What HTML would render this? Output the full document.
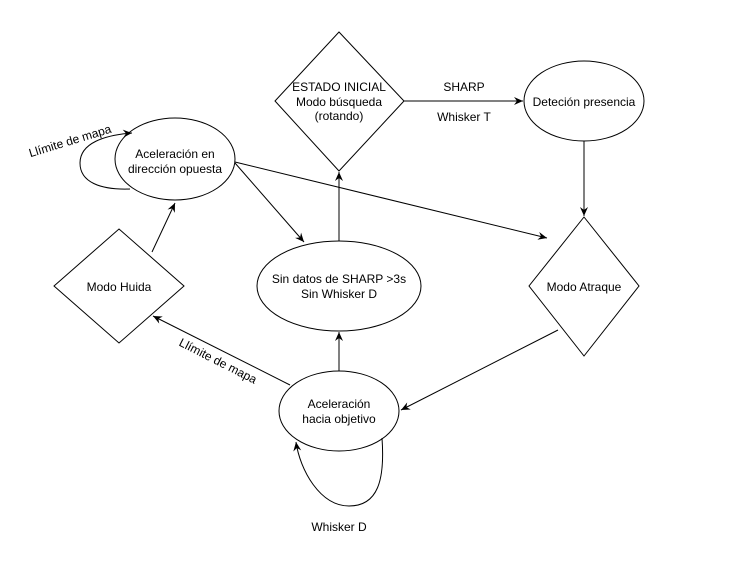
<!DOCTYPE html>
<html><head><meta charset="utf-8"><style>html,body{margin:0;padding:0;background:#fff}</style></head>
<body>
<svg width="736" height="572" xmlns="http://www.w3.org/2000/svg" font-family="Liberation Sans, sans-serif" font-size="12" fill="none" stroke="#000">
<defs><marker id="a" markerWidth="10" markerHeight="10" refX="9" refY="5" orient="auto" markerUnits="userSpaceOnUse"><path d="M0,1 L9,5 L0,9 L3,5 Z" fill="#000" stroke="none"/></marker></defs>
<polygon points="339,32 404,101 339,171 275,101" fill="#fff"/>
<ellipse cx="584" cy="101" rx="60" ry="40" fill="#fff"/>
<polygon points="584,217 639,286 584,356 529,286" fill="#fff"/>
<ellipse cx="339" cy="286" rx="82" ry="45" fill="#fff"/>
<ellipse cx="175" cy="159" rx="60" ry="41" fill="#fff"/>
<polygon points="119,229 184,286 119,343 54,286" fill="#fff"/>
<ellipse cx="339" cy="411" rx="60" ry="40" fill="#fff"/>
<g marker-end="url(#a)">
<line x1="404" y1="101" x2="523" y2="101"/>
<line x1="584" y1="141" x2="584" y2="216"/>
<line x1="339" y1="241" x2="339" y2="172"/>
<line x1="339" y1="371" x2="339" y2="332"/>
<line x1="152" y1="252" x2="175" y2="203"/>
<line x1="235" y1="163" x2="304" y2="242"/>
<line x1="235" y1="162" x2="547" y2="238"/>
<line x1="558" y1="330" x2="401" y2="410"/>
<line x1="290" y1="385" x2="153" y2="316"/>
<path d="M382,438 C385,480 378,506 349,506 C320,506 300,470 296,442"/>
<path d="M130,189 C100,190 80,182 80,163 C80,143 105,135 132,133"/>
</g>
<g fill="#000" stroke="none" text-anchor="middle">
<text x="339" y="91">ESTADO INICIAL</text>
<text x="339" y="106">Modo búsqueda</text>
<text x="339" y="120">(rotando)</text>
<text x="464" y="91">SHARP</text>
<text x="464" y="121">Whisker T</text>
<text x="584" y="106">Deteción presencia</text>
<text x="584" y="291">Modo Atraque</text>
<text x="339" y="283">Sin datos de SHARP &gt;3s</text>
<text x="339" y="298">Sin Whisker D</text>
<text x="175" y="158">Aceleración en</text>
<text x="175" y="173">dirección opuesta</text>
<text x="119" y="291">Modo Huida</text>
<text x="339" y="408">Aceleración</text>
<text x="339" y="423">hacia objetivo</text>
<text x="339" y="531">Whisker D</text>
<text x="70" y="145" transform="rotate(-17 70 141)">Llímite de mapa</text>
<text x="218" y="365" transform="rotate(27 218 361)">Llímite de mapa</text>
</g>
</svg>
</body></html>
